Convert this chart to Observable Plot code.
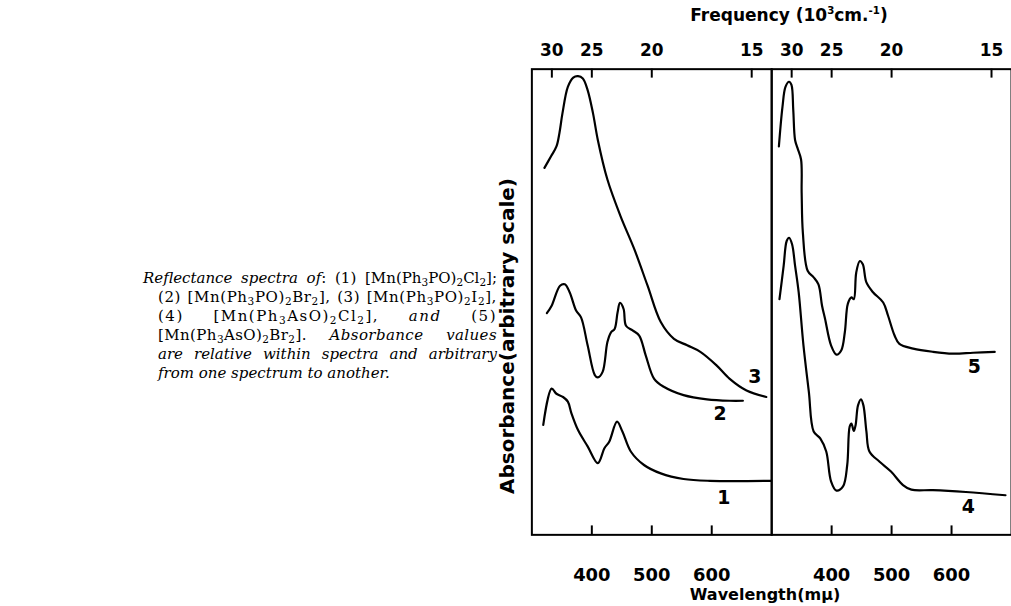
<!DOCTYPE html>
<html><head><meta charset="utf-8">
<script src="https://cdn.jsdelivr.net/npm/d3@7"></script>
<script src="https://cdn.jsdelivr.net/npm/@observablehq/plot@0.6"></script>
<style>
html,body{margin:0;padding:0;overflow:hidden;background:#fff;}
#wrap{position:relative;width:1011px;height:606px;overflow:hidden;}
#chart{position:absolute;left:0;top:0;}
.lbl{position:absolute;font-family:"DejaVu Sans";font-weight:bold;color:#000;white-space:nowrap;}
#cap{position:absolute;left:158px;top:269px;width:339px;font-family:"DejaVu Serif";font-size:15px;line-height:19px;color:#000;}
#cap div{text-align:justify;text-align-last:justify;}
#cap sub{font-size:0.7em;vertical-align:-0.3em;line-height:0;}
#cap i{font-style:italic;}
sup{font-size:0.6em;line-height:0;}
</style></head>
<body><div id="wrap">
<div id="chart"></div>
<div id="cap">
<div style="margin-left:-15px;width:354px"><i>Reflectance spectra of</i>: (1) [Mn(Ph<sub>3</sub>PO)<sub>2</sub>Cl<sub>2</sub>];</div>
<div style="letter-spacing:0.6px">(2) [Mn(Ph<sub>3</sub>PO)<sub>2</sub>Br<sub>2</sub>], (3) [Mn(Ph<sub>3</sub>PO)<sub>2</sub>I<sub>2</sub>],</div>
<div style="letter-spacing:1.5px">(4) [Mn(Ph<sub>3</sub>AsO)<sub>2</sub>Cl<sub>2</sub>], <i>and</i> (5)</div>
<div style="letter-spacing:0.4px">[Mn(Ph<sub>3</sub>AsO)<sub>2</sub>Br<sub>2</sub>]. <i>Absorbance</i> <i>values</i></div>
<div><i>are relative within spectra and arbitrary</i></div>
<div style="text-align-last:left"><i>from one spectrum to another.</i></div>
</div>
<div class="lbl" style="left:789px;top:5px;font-size:17px;transform:translateX(-50%)">Frequency (10<sup>3</sup>cm.<sup>-1</sup>)</div>
<div class="lbl" style="left:765px;top:585px;font-size:16px;transform:translateX(-50%)">Wavelength(mμ)</div>
<div class="lbl" style="left:327px;top:326px;width:360px;height:20px;line-height:20px;text-align:center;font-size:20px;transform:rotate(-90deg)">Absorbance(arbitrary scale)</div>
</div>
<script>
// Spectrum 1: [Mn(Ph3PO)2Cl2] (left panel)
const wl1 = [319, 333, 341, 352, 360, 366, 377, 393, 410, 421, 429, 442, 451, 465, 487, 515, 553, 597, 699];
const ab1 = [23.6, 31.4, 30.3, 29.6, 28.6, 26.1, 22.5, 19.0, 15.4, 18.6, 20.0, 24.3, 22.2, 17.9, 15.0, 13.2, 12.0, 11.6, 11.6];
// Spectrum 2: [Mn(Ph3PO)2Br2] (left panel)
const wl2 = [325, 333, 347, 355, 363, 374, 382, 393, 405, 410, 418, 426, 432, 438, 443, 447, 453, 457, 468, 479, 490, 504, 520, 553, 592, 630, 652];
const ab2 = [47.6, 49.2, 53.5, 53.8, 52.1, 48.1, 46.7, 40.7, 34.3, 33.8, 35.0, 41.4, 43.5, 44.2, 47.8, 49.8, 48.5, 44.9, 43.9, 42.8, 38.5, 33.5, 31.8, 30.0, 29.1, 28.8, 28.8];
// Spectrum 3: [Mn(Ph3PO)2I2] (left panel)
const wl3 = [321, 332, 341, 346, 351, 360, 369, 377, 385, 393, 402, 410, 426, 448, 471, 493, 515, 537, 559, 581, 608, 630, 658, 691];
const ab3 = [78.8, 81.3, 83.4, 86.3, 90.5, 96.2, 98.2, 98.5, 98.0, 95.5, 90.5, 84.8, 76.3, 68.4, 61.3, 53.5, 45.7, 42.1, 40.7, 39.3, 36.4, 33.5, 31.0, 29.6];
// Spectrum 4: [Mn(Ph3AsO)2Cl2] (right panel)
const wl4 = [313, 320, 325, 329, 334, 339, 345, 353, 362, 370, 381, 391, 399, 408, 419, 426, 430, 433, 437, 440, 444, 449, 453, 458, 463, 480, 499, 519, 533, 569, 624, 690];
const ab4 = [50.6, 57.8, 63.1, 63.8, 62.4, 57.8, 52.1, 40.7, 30.7, 22.2, 20.7, 17.9, 11.5, 9.5, 10.4, 15.0, 23.2, 23.9, 22.3, 23.6, 27.8, 29.1, 27.8, 22.2, 17.9, 15.7, 13.6, 10.7, 9.7, 9.6, 9.2, 8.5];
// Spectrum 5: [Mn(Ph3AsO)2Br2] (right panel)
const wl5 = [312, 318, 323, 329, 333, 336, 339, 343, 349, 350, 352, 360, 370, 378, 384, 389, 399, 408, 416, 422, 427, 433, 437, 441, 447, 452, 458, 469, 486, 494, 505, 513, 536, 569, 602, 636, 672];
const ab5 = [83.4, 91.9, 96.2, 97.3, 96.6, 91.2, 84.8, 83.1, 80.6, 73.4, 64.9, 56.7, 55.3, 53.8, 49.2, 46.4, 40.7, 38.7, 39.6, 43.5, 49.6, 51.0, 50.6, 56.3, 58.8, 58.1, 54.2, 52.1, 49.9, 47.1, 42.8, 41.0, 40.0, 39.3, 38.9, 39.1, 39.3];

const panels = ["A", "B"];
const spectrumPanel = {1: "A", 2: "A", 3: "A", 4: "B", 5: "B"};

// Axis ticks
const wavelengthTicks = [400, 500, 600];           // mμ
const frequencyTicks = [30, 25, 20, 15];           // 10^3 cm^-1

// Curve number labels
const labelText = ["1", "2", "3", "4", "5"];
const labelWl = [620, 614, 672, 628, 638];
const labelAb = [8, 26, 34, 6, 36];

const series = [[1, wl1, ab1], [2, wl2, ab2], [3, wl3, ab3], [4, wl4, ab4], [5, wl5, ab5]];
const rows = series.flatMap(([id, w, a]) => w.map((x, i) => ({id, panel: spectrumPanel[id], wl: x, ab: a[i]})));
const labels = labelText.map((t, i) => ({t, panel: spectrumPanel[+t], wl: labelWl[i], ab: labelAb[i]}));
const freqPos = frequencyTicks.map(f => 1e4 / f);

const chart = Plot.plot({
  width: 1016,
  height: 606,
  marginLeft: 534,
  marginRight: 0,
  marginTop: 69,
  marginBottom: 69,
  style: {fontFamily: "DejaVu Sans", fontWeight: "bold", color: "#000", background: "transparent"},
  x: {domain: [300, 700], label: null},
  y: {domain: [0, 100], axis: null},
  fx: {domain: panels, padding: 0, axis: null, label: null},
  marks: [
    Plot.frame({stroke: "#000", strokeWidth: 2}),
    Plot.tickX(wavelengthTicks, {x: d => d, insetTop: 459, stroke: "#000", strokeWidth: 2}),
    Plot.tickX(freqPos, {x: d => d, insetBottom: 459, stroke: "#000", strokeWidth: 2}),
    Plot.axisX(wavelengthTicks, {anchor: "bottom", label: null, tickSize: 0, tickPadding: 34, fontSize: 18, fontWeight: "bold", tickFormat: d => String(d)}),
    Plot.axisX(freqPos, {anchor: "top", label: null, tickSize: 0, tickPadding: 13, fontSize: 17, fontWeight: "bold", tickFormat: d => String(Math.round(1e4 / d))}),
    Plot.line(rows, {x: "wl", y: "ab", z: "id", fx: "panel", curve: "catmull-rom", stroke: "#000", strokeWidth: 2.2}),
    Plot.text(labels, {x: "wl", y: "ab", text: "t", fx: "panel", fontSize: 19, fontWeight: "bold", fill: "#000"})
  ]
});
document.getElementById("chart").appendChild(chart);
</script>
</body></html>
